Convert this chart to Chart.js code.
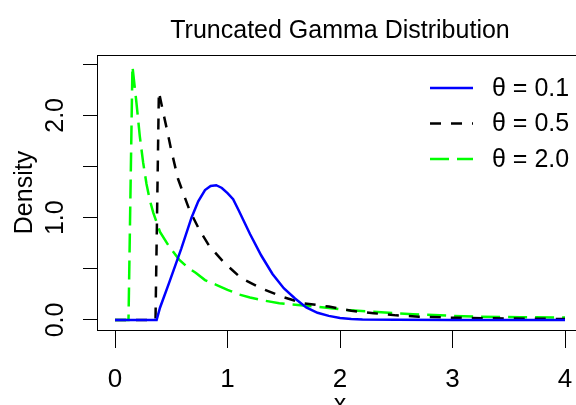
<!DOCTYPE html>
<html>
<head>
<meta charset="utf-8">
<script src="https://cdn.jsdelivr.net/npm/chart.js@4"></script>
<style>
  html, body { margin: 0; padding: 0; background: #fff; overflow: hidden; }
  canvas { display: block; }
</style>
</head>
<body>
<canvas id="canvas_gamma" width="600" height="405"></canvas>
<script>
// densities for the three theta values, read per curve
const blueX = [0, 0.37, 0.4, 0.48, 0.59, 0.68, 0.74, 0.8, 0.85, 0.9, 0.95, 1.0, 1.05, 1.1, 1.2, 1.3, 1.4, 1.5, 1.6, 1.7, 1.8, 1.9, 2.0, 2.1, 2.2, 2.5, 3.0, 3.5, 4.0];
const blueY = [0, 0, 0.12, 0.36, 0.70, 1.0, 1.16, 1.27, 1.31, 1.317, 1.29, 1.24, 1.18, 1.07, 0.84, 0.63, 0.45, 0.31, 0.21, 0.123, 0.07, 0.04, 0.02, 0.01, 0.005, 0.002, 0, 0, 0];

const blackX = [0, 0.36, 0.39, 0.43, 0.47, 0.5, 0.56, 0.62, 0.66, 0.75, 0.84, 0.97, 1.12, 1.3, 1.48, 1.67, 1.9, 2.1, 2.3, 2.5, 2.7, 3.0, 3.5, 4.0];
const blackY = [0, 0, 2.23, 2.02, 1.82, 1.66, 1.38, 1.2, 1.08, 0.88, 0.72, 0.56, 0.41, 0.31, 0.229, 0.164, 0.131, 0.09, 0.066, 0.045, 0.032, 0.022, 0.014, 0.01];

const greenX = [0, 0.12, 0.155, 0.19, 0.22, 0.25, 0.28, 0.31, 0.34, 0.4, 0.48, 0.57, 0.65, 0.72, 0.8, 0.9, 1.0, 1.1, 1.2, 1.34, 1.46, 1.55, 1.79, 2.06, 2.3, 2.65, 3.0, 3.24, 3.6, 4.0];
const greenY = [0, 0, 2.48, 2.13, 1.80, 1.54, 1.33, 1.17, 1.05, 0.86, 0.72, 0.59, 0.51, 0.46, 0.39, 0.344, 0.295, 0.25, 0.22, 0.187, 0.164, 0.154, 0.131, 0.098, 0.08, 0.056, 0.04, 0.032, 0.027, 0.023];

const seriesNames = ['θ = 0.1', 'θ = 0.5', 'θ = 2.0'];
const xTicks = [0, 1, 2, 3, 4];
const yTicks = [0, 0.5, 1, 1.5, 2, 2.5];
const yLabels = [0, 1, 2];

const FONT = '"Liberation Sans", Arial, sans-serif';

function toPoints(xs, ys) {
  return xs.map((x, i) => ({ x: x, y: ys[i] }));
}

// box, titles, rotated y labels and the legend, R style
const rPlot = {
  id: 'rPlot',
  afterDraw(chart) {
    const ctx = chart.ctx;
    const area = chart.chartArea;
    const sy = chart.scales.y;
    const cx = (area.left + area.right) / 2;
    ctx.save();
    ctx.strokeStyle = '#000';
    ctx.lineWidth = 1;
    ctx.setLineDash([]);
    ctx.strokeRect(Math.round(area.left) + 0.5, Math.round(area.top) + 0.5,
      Math.round(area.right - area.left), Math.round(area.bottom - area.top));

    ctx.fillStyle = '#000';
    ctx.textAlign = 'center';
    ctx.textBaseline = 'alphabetic';
    ctx.font = '25px ' + FONT;
    ctx.fillText('Truncated Gamma Distribution', cx, 38);

    ctx.fillText('x', cx, 412);

    yLabels.forEach(v => {
      ctx.save();
      ctx.translate(63, sy.getPixelForValue(v));
      ctx.rotate(-Math.PI / 2);
      ctx.fillText(v.toFixed(1), 0, 0);
      ctx.restore();
    });

    ctx.save();
    ctx.translate(32, (area.top + area.bottom) / 2);
    ctx.rotate(-Math.PI / 2);
    ctx.fillText('Density', 0, 0);
    ctx.restore();

    // legend without a frame
    ctx.textAlign = 'left';
    ctx.textBaseline = 'middle';
    chart.data.datasets.forEach((ds, i) => {
      const ly = 88 + i * 35.5;
      ctx.strokeStyle = ds.borderColor;
      ctx.lineWidth = ds.borderWidth;
      ctx.setLineDash(ds.borderDash || []);
      ctx.beginPath();
      ctx.moveTo(430, ly);
      ctx.lineTo(473, ly);
      ctx.stroke();
      ctx.fillText(ds.label, 492, ly + 1);
    });
    ctx.restore();
  }
};

const data_gamma = {
  datasets: [
    {
      label: seriesNames[0],
      data: toPoints(blueX, blueY),
      borderColor: '#0000ff',
      borderWidth: 2.5,
    },
    {
      label: seriesNames[1],
      data: toPoints(blackX, blackY),
      borderColor: '#000000',
      borderWidth: 2.5,
      borderDash: [11, 10],
    },
    {
      label: seriesNames[2],
      data: toPoints(greenX, greenY),
      borderColor: '#00ff00',
      borderWidth: 2.5,
      borderDash: [19, 8],
    },
  ],
};

const config_gamma = {
  type: 'line',
  data: data_gamma,
  options: {
    responsive: false,
    animation: false,
    layout: { padding: { left: 0, top: 55, right: 17, bottom: 0 } },
    elements: { point: { radius: 0 }, line: { tension: 0 } },
    plugins: { legend: { display: false }, title: { display: false }, tooltip: { enabled: false } },
    scales: {
      x: {
        type: 'linear',
        min: -0.16,
        max: 4.16,
        afterBuildTicks: s => { s.ticks = xTicks.map(v => ({ value: v })); },
        afterFit: s => { s.height = 75; },
        border: { display: false },
        grid: { drawOnChartArea: false, drawTicks: true, tickLength: 18, color: '#000', lineWidth: 1 },
        ticks: { color: '#000', padding: 16, maxRotation: 0, font: { family: FONT, size: 26 } },
      },
      y: {
        type: 'linear',
        min: -0.098,
        max: 2.59,
        afterBuildTicks: s => { s.ticks = yTicks.map(v => ({ value: v })); },
        afterFit: s => { s.width = 97; },
        border: { display: false },
        grid: { drawOnChartArea: false, drawTicks: true, tickLength: 14, color: '#000', lineWidth: 1 },
        ticks: { display: false },
      },
    },
  },
  plugins: [rPlot],
};

const canvas_gamma = document.getElementById('canvas_gamma');
const chart_gamma = new Chart(canvas_gamma, config_gamma);
</script>
</body>
</html>
